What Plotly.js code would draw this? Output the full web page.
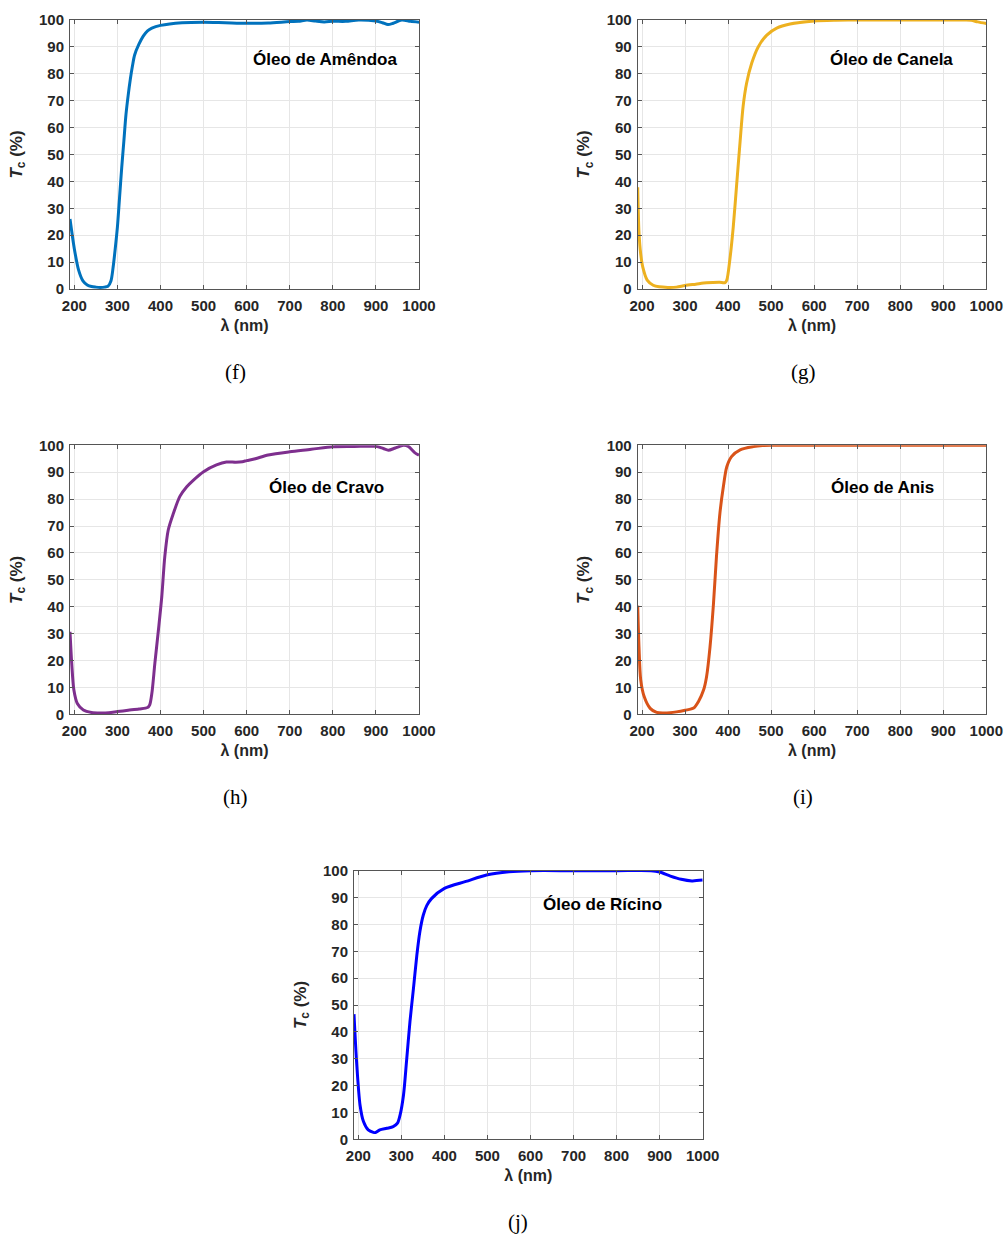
<!DOCTYPE html>
<html>
<head>
<meta charset="utf-8">
<script src="https://cdn.plot.ly/plotly-3.0.1.min.js"></script>
<style>html,body{margin:0;padding:0;background:#fff;}#chart{width:1005px;height:1236px;}</style>
</head>
<body>
<div id="chart"></div>
<script>
// ---- Data ----
const oilNames = ["Óleo de Amêndoa", "Óleo de Canela", "Óleo de Cravo", "Óleo de Anis", "Óleo de Rícino"];
const panelLabels = ["(f)", "(g)", "(h)", "(i)", "(j)"];
const xTicks = [200, 300, 400, 500, 600, 700, 800, 900, 1000];
const yTicks = [0, 10, 20, 30, 40, 50, 60, 70, 80, 90, 100];

const wlAmendoa = [190,200,210,220,230,240,250,260,270,278,285,290,295,300,305,310,315,320,325,330,335,340,350,360,370,380,400,450,500,550,600,650,700,720,740,760,780,800,830,860,900,915,928,940,960,980,1000];
const tcAmendoa = [26,15,7,3,1.5,0.9,0.7,0.6,0.7,1,3,8,15,23,34,45,55,65,72,78,83,87,91,94,96,97,98,99,99.2,99,98.8,98.9,99.4,99.5,100,99.6,99.3,99.5,99.5,100,99.6,99,98.3,98.8,100,99.5,99.2];

const wlCanela = [190,193,197,202,212,226,240,260,280,300,325,350,380,393,397,404,412,420,428,435,443,455,470,490,513,544,600,650,700,800,900,950,965,980,1000];
const tcCanela = [37.8,21,13,8,3.3,1.4,0.8,0.6,0.7,1.3,1.8,2.3,2.5,2.4,3.3,10.8,23,39,55,68,76.5,84,90,94.4,97,98.5,99.6,99.9,100,100,100,100,99.9,99.3,98.7];

const wlCravo = [190,194,199,207,221,240,260,280,300,325,350,370,375,380,387,395,403,410,418,430,445,461,476,500,530,553,575,590,600,620,650,700,750,800,850,900,917,929,945,964,975,990,1000];
const tcCravo = [30.7,19,9,4,1.6,0.7,0.5,0.6,1,1.5,2,2.5,3.5,7.8,19,31,43.7,58.6,68.5,74.7,81,84.6,87,90.2,92.7,93.8,93.7,93.9,94.3,95,96.4,97.6,98.5,99.5,99.6,99.6,98.8,98.2,99,100,99.6,97.3,96.3];

const wlAnis = [190,193,197,205,219,234,250,265,280,300,320,331,343,350,358,366,373,381,389,397,408,428,459,480,500,600,700,800,900,1000];
const tcAnis = [40.4,25,12.8,6.6,2.2,0.7,0.5,0.6,0.9,1.5,2.3,4.7,9,14,25,41,58.6,74.7,84.6,92,95.8,98.3,99.5,99.9,100,100,100,100,100,100];

const wlRicino = [190,196,204,212,223,235,240,250,266,281,291,297,305,312,320,328,336,343,351,359,370,400,450,500,550,600,700,800,880,900,925,950,975,1000];
const tcRicino = [46.6,28.9,12.8,6.6,3.5,2.6,2.5,3.5,4.1,4.7,6,9,16.5,29,43.8,56,68.6,77.3,83.5,87,89.6,93.4,96,98.5,99.6,100,100,100,100,99.5,98,96.8,96.2,96.5];

const lineColors = ["#0072BD", "#EDB120", "#7E2F8E", "#D95319", "#0000FF"];

// ---- Layout geometry ----
const W = 1005, H = 1236;
const boxes = [ // [left, right, top, bottom] in px
  [70, 419, 20, 289],
  [637.7, 986.3, 20, 289],
  [70, 419, 445.3, 714.3],
  [637.7, 986.3, 445.3, 714.3],
  [354, 702.7, 870.7, 1139.3]
];
const labelPos = [[235, 372], [803, 372], [235, 797], [803, 797], [518, 1222]];
const namePos = [[325, 59], [891, 59], [326, 488], [882, 487], [602, 904]];

const wls = [wlAmendoa, wlCanela, wlCravo, wlAnis, wlRicino];
const tcs = [tcAmendoa, tcCanela, tcCravo, tcAnis, tcRicino];

const traces = [];
const layout = {
  width: W, height: H,
  margin: {l: 0, r: 0, t: 0, b: 0},
  paper_bgcolor: "#ffffff", plot_bgcolor: "#ffffff",
  showlegend: false,
  font: {family: "Liberation Sans, Arial, sans-serif", color: "#262626"},
  annotations: []
};

for (let i = 0; i < 5; i++) {
  const sfx = i === 0 ? "" : String(i + 1);
  traces.push({
    x: wls[i], y: tcs[i], type: "scatter", mode: "lines",
    xaxis: "x" + sfx, yaxis: "y" + sfx,
    line: {color: lineColors[i], width: 3, shape: "spline", smoothing: 0.8},
    hoverinfo: "skip"
  });
  const [l, r, t, b] = boxes[i];
  const common = {
    showline: true, mirror: "ticks", linecolor: "#555555", linewidth: 1,
    showgrid: true, gridcolor: "#e6e6e6", gridwidth: 1,
    ticks: "inside", ticklen: 4, tickcolor: "#555555",
    zeroline: false, fixedrange: true,
    tickfont: {family: "Liberation Sans, Arial, sans-serif", size: 15, weight: "bold", color: "#262626"}
  };
  layout["xaxis" + sfx] = Object.assign({}, common, {
    domain: [l / W, r / W], anchor: "y" + sfx,
    range: [190, 1000], tickvals: xTicks, ticktext: xTicks.map(String),
    ticklabelstandoff: 3,
    title: {text: "λ (nm)", standoff: 6, font: {size: 16, weight: "bold", color: "#262626"}}
  });
  layout["yaxis" + sfx] = Object.assign({}, common, {
    domain: [1 - b / H, 1 - t / H], anchor: "x" + sfx,
    range: [0, 100], tickvals: yTicks, ticktext: yTicks.map(String),
    ticklabelstandoff: 2,
    title: {text: "<i>T</i><sub>c</sub> (%)", standoff: 12, font: {size: 17, weight: "bold", color: "#262626"}}
  });
  layout.annotations.push({
    xref: "paper", yref: "paper", x: namePos[i][0] / W, y: 1 - namePos[i][1] / H,
    xanchor: "center", yanchor: "middle", showarrow: false, text: oilNames[i],
    font: {family: "Liberation Sans, Arial, sans-serif", size: 17, weight: "bold", color: "#000000"}
  });
  layout.annotations.push({
    xref: "paper", yref: "paper", x: labelPos[i][0] / W, y: 1 - labelPos[i][1] / H,
    xanchor: "center", yanchor: "middle", showarrow: false, text: panelLabels[i],
    font: {family: "Liberation Serif, Times New Roman, serif", size: 21, color: "#000000"}
  });
}

Plotly.newPlot("chart", traces, layout, {displayModeBar: false, staticPlot: true});
</script>
</body>
</html>
